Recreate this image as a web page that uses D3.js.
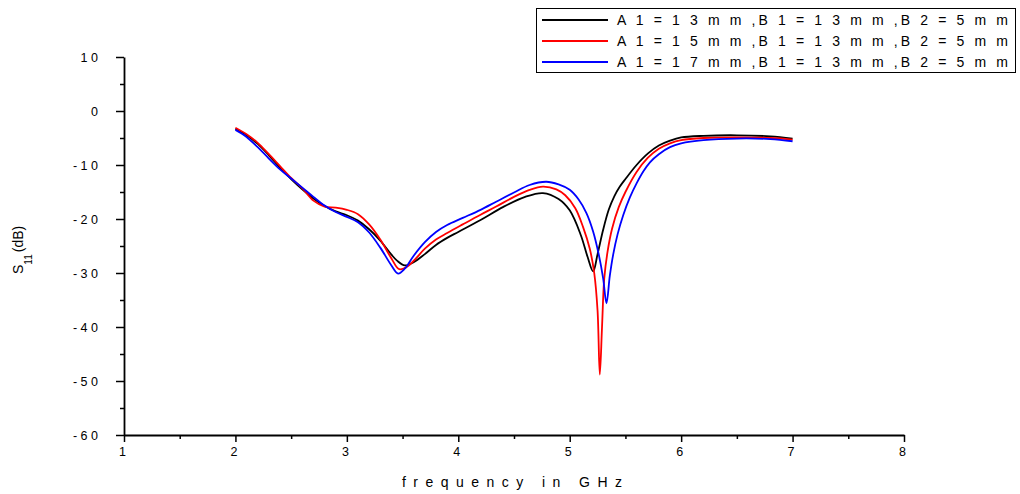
<!DOCTYPE html>
<html>
<head>
<meta charset="utf-8">
<script src="https://cdn.jsdelivr.net/npm/d3@7"></script>
<style>
  body { margin: 0; background: #fff; }
  svg { font-family: "Liberation Sans", Arial, sans-serif; }
  .tick text { white-space: pre; }
</style>
</head>
<body>
<div id="chart"></div>
<script>
// S11 readings, frequency in GHz
const freqA13 = [2.0, 2.1, 2.2, 2.3, 2.4, 2.5, 2.6, 2.7, 2.8, 2.9, 3.0, 3.1, 3.2, 3.3, 3.4, 3.45, 3.52, 3.6, 3.7, 3.8, 3.9, 4.0, 4.2, 4.4, 4.6, 4.76, 4.9, 5.0, 5.1, 5.16, 5.21, 5.25, 5.3, 5.35, 5.4, 5.45, 5.5, 5.6, 5.7, 5.8, 5.9, 6.0, 6.2, 6.5, 6.8, 7.0];
const s11A13 = [-3.3, -4.5, -6.1, -8.2, -10.5, -12.6, -14.5, -16.2, -17.6, -18.6, -19.3, -20.3, -21.9, -24.0, -26.6, -27.7, -28.6, -28.0, -26.5, -24.8, -23.5, -22.4, -20.2, -17.8, -15.9, -15.2, -16.3, -18.4, -23.0, -27.0, -29.7, -26.5, -22.0, -18.3, -15.8, -14.0, -12.6, -10.0, -7.9, -6.4, -5.5, -4.9, -4.6, -4.5, -4.7, -5.1];

const freqA15 = [2.0, 2.1, 2.2, 2.3, 2.4, 2.5, 2.6, 2.7, 2.8, 2.9, 3.0, 3.1, 3.2, 3.3, 3.4, 3.47, 3.55, 3.62, 3.7, 3.8, 3.9, 4.04, 4.2, 4.34, 4.5, 4.64, 4.76, 4.88, 4.96, 5.05, 5.12, 5.18, 5.22, 5.25, 5.27, 5.29, 5.31, 5.34, 5.38, 5.44, 5.5, 5.6, 5.7, 5.8, 5.9, 6.0, 6.2, 6.5, 6.8, 7.0];
const s11A15 = [-3.1, -4.3, -5.9, -8.0, -10.2, -12.4, -14.3, -16.6, -17.7, -17.9, -18.3, -19.1, -21.0, -23.8, -27.3, -29.3, -28.7, -27.3, -25.5, -23.8, -22.6, -21.0, -19.2, -17.7, -15.9, -14.6, -14.0, -14.5, -15.6, -18.0, -21.5, -25.5, -30.0, -37.0, -48.8, -40.0, -31.0, -26.0, -21.8, -17.8, -15.0, -11.3, -8.7, -7.0, -6.0, -5.4, -5.0, -4.9, -5.0, -5.3];

const freqA17 = [2.0, 2.1, 2.2, 2.3, 2.4, 2.5, 2.6, 2.7, 2.8, 2.9, 3.0, 3.1, 3.2, 3.3, 3.4, 3.46, 3.52, 3.6, 3.7, 3.8, 3.9, 4.04, 4.2, 4.34, 4.5, 4.64, 4.79, 4.9, 5.0, 5.08, 5.15, 5.21, 5.26, 5.3, 5.33, 5.36, 5.39, 5.43, 5.48, 5.54, 5.6, 5.66, 5.72, 5.8, 5.9, 6.0, 6.2, 6.5, 6.8, 7.0];
const s11A17 = [-3.5, -4.8, -6.7, -8.8, -10.8, -12.5, -14.2, -15.9, -17.5, -18.7, -19.6, -20.6, -22.5, -25.3, -28.6, -30.1, -29.2, -26.8, -24.3, -22.4, -21.1, -19.8, -18.3, -16.8, -15.1, -13.7, -13.1, -13.6, -14.6, -16.4, -18.9, -22.3, -26.5, -31.0, -35.6, -30.5, -26.6, -22.8, -19.3, -16.0, -13.4, -11.2, -9.5, -8.0, -6.7, -6.0, -5.4, -5.1, -5.2, -5.6];

const seriesNames = ["A 1 = 1 3 m m ,B 1 = 1 3 m m ,B 2 = 5 m m",
                     "A 1 = 1 5 m m ,B 1 = 1 3 m m ,B 2 = 5 m m",
                     "A 1 = 1 7 m m ,B 1 = 1 3 m m ,B 2 = 5 m m"];
const seriesColors = ["#000000", "#ff0000", "#0000ff"];

const xTicks = [1, 2, 3, 4, 5, 6, 7, 8];
const yTicks = [10, 0, -10, -20, -30, -40, -50, -60];

const series = [
  { name: seriesNames[0], color: seriesColors[0], values: freqA13.map((f, i) => [f, s11A13[i]]) },
  { name: seriesNames[1], color: seriesColors[1], values: freqA15.map((f, i) => [f, s11A15[i]]) },
  { name: seriesNames[2], color: seriesColors[2], values: freqA17.map((f, i) => [f, s11A17[i]]) }
];

const width = 1020, height = 494;
const margin = { top: 57, right: 116, bottom: 59, left: 124 };

const svg = d3.select("#chart").append("svg")
  .attr("width", width)
  .attr("height", height);

const x = d3.scaleLinear().domain([1, 8]).range([margin.left, width - margin.right]);
const y = d3.scaleLinear().domain([-60, 10]).range([height - margin.bottom, margin.top]);

// spaced-out labels like the original export
const spaced = d => {
  const s = String(Math.abs(d)).split("").join(" ");
  return d < 0 ? "- " + s : s;
};

// minor ticks first
svg.append("g")
  .attr("transform", `translate(0,${y(-60)})`)
  .call(d3.axisBottom(x).tickValues(d3.range(1.5, 8, 1)).tickSize(4).tickFormat(""))
  .call(g => g.select(".domain").remove());
svg.append("g")
  .attr("transform", `translate(${x(1)},0)`)
  .call(d3.axisLeft(y).tickValues(d3.range(-55, 10, 10)).tickSize(4).tickFormat(""))
  .call(g => g.select(".domain").remove());

const xAxis = svg.append("g")
  .attr("transform", `translate(0,${y(-60)})`)
  .call(d3.axisBottom(x).tickValues(xTicks).tickSize(7).tickSizeOuter(0).tickPadding(5).tickFormat(d => d));
const yAxis = svg.append("g")
  .attr("transform", `translate(${x(1)},0)`)
  .call(d3.axisLeft(y).tickValues(yTicks).tickSize(8).tickSizeOuter(0).tickPadding(18).tickFormat(spaced));

svg.selectAll(".tick line").attr("stroke", "#000").attr("stroke-width", 1.5);
svg.selectAll(".domain").attr("stroke", "#000").attr("stroke-width", 1.8);
svg.selectAll(".tick text").attr("font-size", 12.5).attr("fill", "#000")
  .attr("font-family", "'Liberation Sans', Arial, sans-serif");
xAxis.selectAll(".tick text").attr("dx", -2);

// curves
const line = d3.line()
  .x(d => x(d[0]))
  .y(d => y(d[1]))
  .curve(d3.curveCatmullRom.alpha(0.5));

svg.append("g")
  .selectAll("path")
  .data(series)
  .join("path")
  .attr("fill", "none")
  .attr("stroke", d => d.color)
  .attr("stroke-width", 1.8)
  .attr("stroke-linejoin", "round")
  .attr("d", d => line(d.values));

// axis titles
svg.append("text")
  .attr("x", 402)
  .attr("y", 487)
  .attr("font-size", 14)
  .attr("textLength", 220)
  .attr("lengthAdjust", "spacing")
  .style("white-space", "pre")
  .text("f r e q u e n c y   i n   G H z");

const yTitle = svg.append("text")
  .attr("transform", "translate(23,274) rotate(-90)")
  .attr("font-size", 14);
yTitle.append("tspan").text("S");
yTitle.append("tspan").attr("font-size", 10).attr("dy", 9).text("11");
yTitle.append("tspan").attr("dy", -9).attr("dx", 2).text("(dB)");

// legend
const legend = svg.append("g");
legend.append("rect")
  .attr("x", 536.5)
  .attr("y", 8.5)
  .attr("width", 479)
  .attr("height", 64)
  .attr("fill", "#fff")
  .attr("stroke", "#000")
  .attr("stroke-width", 1);

const rows = legend.selectAll("g.row")
  .data(series)
  .join("g")
  .attr("class", "row")
  .attr("transform", (d, i) => `translate(0,${20 + i * 21})`);
rows.append("line")
  .attr("x1", 542).attr("x2", 608)
  .attr("stroke", d => d.color)
  .attr("stroke-width", 1.8);
rows.append("text")
  .attr("x", 617)
  .attr("y", 5)
  .attr("font-size", 14)
  .attr("textLength", 391)
  .attr("lengthAdjust", "spacing")
  .style("white-space", "pre")
  .text(d => d.name);
</script>
</body>
</html>
